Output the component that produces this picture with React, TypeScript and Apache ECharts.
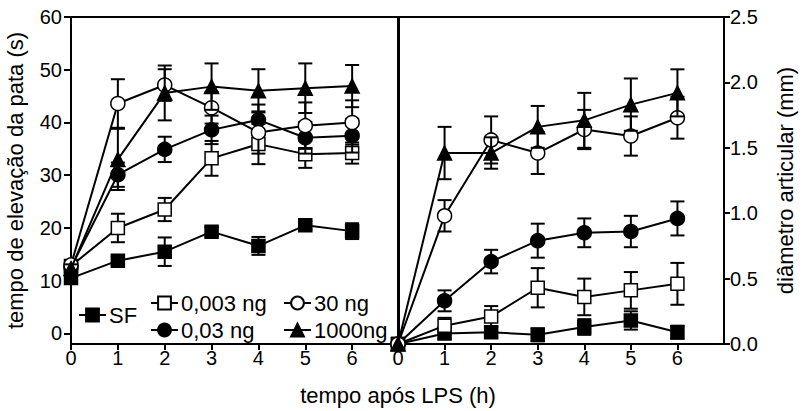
import React, { useEffect, useRef } from 'react';
import * as echarts from 'echarts';

// ---------- data ----------
const hours = [0, 1, 2, 3, 4, 5, 6];
const xTicks = [0, 1, 2, 3, 4, 5, 6];
const leftYTicks = [0, 10, 20, 30, 40, 50, 60];
const groupNames = ['SF', '0,003 ng', '0,03 ng', '30 ng', '1000ng'];

// left panel: tempo de elevação da pata (s)
const pawSF = [10.5, 13.8, 15.5, 19.3, 16.6, 20.5, 19.4];
const pawSFErr = [0.8, 0.8, 2.7, 0.8, 1.7, 0.8, 1.5];
const paw0003 = [12.8, 20.0, 23.5, 33.2, 35.9, 34.0, 34.2];
const paw0003Err = [0.8, 2.7, 2.2, 3.3, 3.8, 2.6, 2.0];
const paw003 = [12.5, 30.1, 34.9, 38.6, 40.5, 37.1, 37.5];
const paw003Err = [0.8, 2.3, 2.4, 2.7, 2.9, 3.0, 3.2];
const paw30 = [13.0, 43.6, 47.1, 42.8, 38.1, 39.4, 40.0];
const paw30Err = [0.8, 4.6, 3.0, 3.0, 4.0, 4.4, 4.2];
const paw1000 = [12.3, 33.0, 45.6, 46.8, 46.0, 46.5, 46.9];
const paw1000Err = [0.8, 5.8, 5.2, 4.4, 4.1, 4.7, 4.0];

// right panel: diâmetro articular (mm)
const jointSF = [0, 0.08, 0.09, 0.07, 0.13, 0.18, 0.09];
const jointSFErr = [0, 0.04, 0.04, 0.05, 0.06, 0.07, 0.05];
const joint0003 = [0, 0.14, 0.21, 0.43, 0.36, 0.41, 0.46];
const joint0003Err = [0, 0.06, 0.08, 0.15, 0.14, 0.14, 0.16];
const joint003 = [0, 0.33, 0.63, 0.79, 0.85, 0.86, 0.96];
const joint003Err = [0, 0.08, 0.09, 0.13, 0.11, 0.12, 0.13];
const joint30 = [0, 0.98, 1.56, 1.46, 1.64, 1.59, 1.73];
const joint30Err = [0, 0.12, 0.18, 0.16, 0.15, 0.15, 0.16];
const joint1000 = [0, 1.46, 1.46, 1.66, 1.71, 1.83, 1.92];
const joint1000Err = [0, 0.2, 0.12, 0.16, 0.21, 0.2, 0.18];

const leftValues = [pawSF, paw0003, paw003, paw30, paw1000];
const leftErrors = [pawSFErr, paw0003Err, paw003Err, paw30Err, paw1000Err];
const rightValues = [jointSF, joint0003, joint003, joint30, joint1000];
const rightErrors = [jointSFErr, joint0003Err, joint003Err, joint30Err, joint1000Err];

// ---------- styles ----------
const FONT = '"Liberation Sans", Arial, Helvetica, sans-serif';
const markerStyle = [
  { symbol: 'rect', fill: '#000', size: 13 },
  { symbol: 'rect', fill: '#fff', size: 13 },
  { symbol: 'circle', fill: '#000', size: 14 },
  { symbol: 'circle', fill: '#fff', size: 14 },
  { symbol: 'triangle', fill: '#000', size: 14 },
];

const legendLayout = [
  { left: 78, top: 304 },
  { left: 150, top: 292 },
  { left: 150, top: 319 },
  { left: 283, top: 292 },
  { left: 283, top: 319 },
];

function errorRender(params: any, api: any) {
  const x = api.value(0);
  const m = api.value(1);
  const e = api.value(2);
  if (!e) return null;
  const t = api.coord([x, m + e]);
  const b = api.coord([x, m - e]);
  const hw = 7;
  const st = { stroke: '#000', lineWidth: 2 };
  return {
    type: 'group',
    children: [
      { type: 'line', shape: { x1: t[0], y1: t[1], x2: b[0], y2: b[1] }, style: st },
      { type: 'line', shape: { x1: t[0] - hw, y1: t[1], x2: t[0] + hw, y2: t[1] }, style: st },
      { type: 'line', shape: { x1: b[0] - hw, y1: b[1], x2: b[0] + hw, y2: b[1] }, style: st },
    ],
  };
}

function buildSeries(values: number[][], errors: number[][], axis: number) {
  const out: any[] = [];
  groupNames.forEach((name, g) => {
    const ms = markerStyle[g];
    out.push({
      type: 'custom',
      name: name + '_err' + axis,
      xAxisIndex: axis,
      yAxisIndex: axis,
      renderItem: errorRender,
      encode: { x: 0, y: 1 },
      data: hours.map((h, i) => [h, values[g][i], errors[g][i]]),
      z: 2 + g * 2,
      silent: true,
    });
    out.push({
      type: 'line',
      name,
      xAxisIndex: axis,
      yAxisIndex: axis,
      data: hours.map((h, i) => [h, values[g][i]]),
      symbol: ms.symbol,
      symbolSize: ms.size,
      showAllSymbol: true,
      clip: false,
      itemStyle: { color: ms.fill, borderColor: '#000', borderWidth: 1.5 },
      lineStyle: { color: '#000', width: 2 },
      z: 3 + g * 2,
    });
  });
  return out;
}

const axisLabelStyle = { color: '#000', fontSize: 20, fontFamily: FONT };

export default function App() {
  const ref = useRef<HTMLDivElement>(null);
  useEffect(() => {
    if (!ref.current) return;
    const chart = echarts.init(ref.current, null, { renderer: 'svg' });
    const xAxisCommon = {
      type: 'value',
      min: 0,
      max: 7,
      axisLine: { show: true, onZero: false, lineStyle: { color: '#000', width: 2 } },
      axisTick: { show: true, length: 6, customValues: xTicks, lineStyle: { color: '#000', width: 2 } },
      axisLabel: { ...axisLabelStyle, margin: 4, customValues: xTicks },
      splitLine: { show: false },
    };
    const option: any = {
      animation: false,
      backgroundColor: '#fff',
      grid: [
        { left: 71, top: 17, width: 328, height: 327, show: true, borderColor: '#000', borderWidth: 2, containLabel: false },
        { left: 398, top: 17, width: 326, height: 327, show: true, borderColor: '#000', borderWidth: 2, containLabel: false },
      ],
      xAxis: [
        { ...xAxisCommon, gridIndex: 0 },
        { ...xAxisCommon, gridIndex: 1 },
      ],
      yAxis: [
        {
          type: 'value',
          gridIndex: 0,
          min: -2,
          max: 60,
          position: 'left',
          axisLine: { show: true, onZero: false, lineStyle: { color: '#000', width: 2 } },
          axisTick: { show: true, length: 7, customValues: leftYTicks, lineStyle: { color: '#000', width: 2 } },
          axisLabel: { ...axisLabelStyle, margin: 9, customValues: leftYTicks },
          splitLine: { show: false },
          name: 'tempo de elevação da pata (s)',
          nameLocation: 'middle',
          nameGap: 45,
          nameTextStyle: { color: '#000', fontSize: 22, fontFamily: FONT },
        },
        {
          type: 'value',
          gridIndex: 1,
          min: 0,
          max: 2.5,
          interval: 0.5,
          position: 'right',
          axisLine: { show: true, onZero: false, lineStyle: { color: '#000', width: 2 } },
          axisTick: { show: true, length: 6, lineStyle: { color: '#000', width: 2 } },
          axisLabel: { ...axisLabelStyle, margin: 6, formatter: (v: number) => v.toFixed(1) },
          splitLine: { show: false },
          name: 'diâmetro articular (mm)',
          nameLocation: 'middle',
          nameRotate: 90,
          nameGap: 50,
          nameTextStyle: { color: '#000', fontSize: 22, fontFamily: FONT },
        },
      ],
      legend: groupNames.map((name, g) => ({
        data: [name],
        left: legendLayout[g].left,
        top: legendLayout[g].top,
        orient: 'horizontal',
        padding: 0,
        itemWidth: 27,
        itemHeight: 16,
        itemGap: 0,
        selectedMode: false,
        textStyle: { color: '#000', fontSize: 22, fontFamily: FONT, padding: [0, 0, 0, -2] },
      })),
      graphic: [
        {
          type: 'text',
          x: 398,
          y: 395,
          style: {
            text: 'tempo após LPS (h)',
            fill: '#000',
            font: `22px ${FONT}`,
            align: 'center',
            verticalAlign: 'middle',
          },
        },
      ],
      series: [
        ...buildSeries(leftValues, leftErrors, 0),
        ...buildSeries(rightValues, rightErrors, 1),
      ],
    };
    chart.setOption(option);
    return () => chart.dispose();
  }, []);
  return (
    <div
      ref={ref}
      style={{ position: 'fixed', left: 0, top: 0, width: 802, height: 411, background: '#fff' }}
    />
  );
}
